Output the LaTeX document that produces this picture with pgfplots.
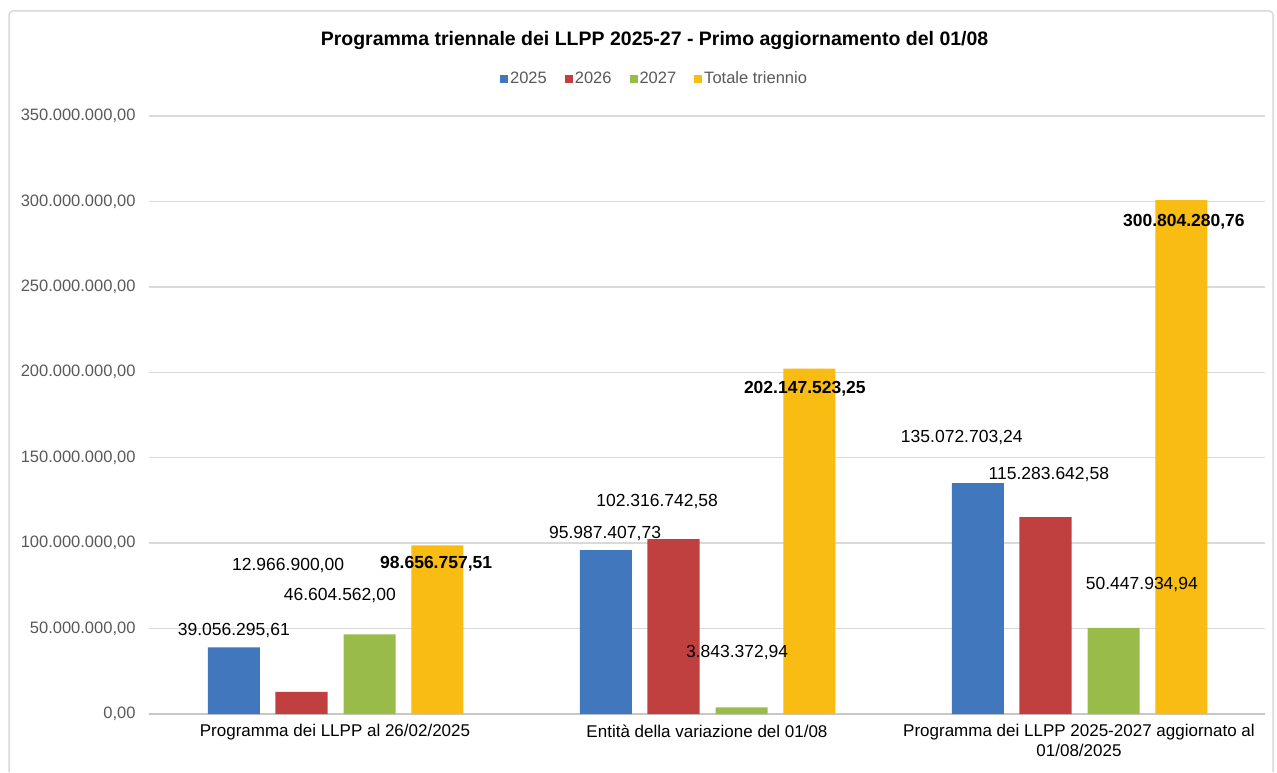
\documentclass[border=0pt]{standalone}
\usepackage{fontspec}
\setmainfont{Liberation Sans}
\usepackage{pgfplots}
\pgfplotsset{compat=1.18}
\definecolor{cblue}{HTML}{4177BD}
\definecolor{cred}{HTML}{C0403F}
\definecolor{cgreen}{HTML}{98BB4A}
\definecolor{cyel}{HTML}{F8BC12}
\definecolor{grid}{HTML}{D9D9D9}
\definecolor{tick}{HTML}{595959}
\newcommand{\lab}{\fontsize{17.5}{21}\selectfont}
\begin{document}
\begin{tikzpicture}
\path[use as bounding box] (0,0) rectangle (1277pt,772pt);
\draw[grid, line width=1.5pt, rounded corners=4pt] (9pt,0pt) -- (9pt,761pt) -- (1273pt,761pt) -- (1273pt,0pt);
\begin{axis}[
  at={(149pt,58pt)}, anchor=south west,
  scale only axis, width=1116pt, height=598pt,
  xmin=-0.5, xmax=2.5, ymin=0, ymax=350000000,
  axis x line*=bottom, axis y line*=left,
  x axis line style={draw=grid!80!gray, line width=1.5pt, -},
  y axis line style={draw=none},
  xmajorgrids=false, ymajorgrids=true,
  y grid style={grid, line width=1.5pt},
  ytick={0,50000000,100000000,150000000,200000000,250000000,300000000,350000000},
  yticklabels={{0,00},{50.000.000,00},{100.000.000,00},{150.000.000,00},{200.000.000,00},{250.000.000,00},{300.000.000,00},{350.000.000,00}},
  scaled y ticks=false,
  /pgf/number format/assume math mode=true,
  yticklabel style={font=\fontsize{16.5}{19}\selectfont, text=tick, anchor=east, xshift=-10pt},
  xtick={0,1,2}, major tick length=0pt, xtick style={draw=none}, ytick style={draw=none},
  xticklabels={{Programma dei LLPP al 26/02/2025},{Entità della variazione del 01/08},{Programma dei LLPP 2025-2027 aggiornato al\\01/08/2025}},
  xticklabel style={font=\fontsize{17}{20}\selectfont, align=center, anchor=north, yshift=-7pt},
  ybar, bar width=0.14,
  legend style={at={(0.453,1.0635)}, anchor=center, draw=none, fill=none, legend columns=4,
    font=\fontsize{16.5}{19}\selectfont, text=tick,
    /tikz/every even column/.append style={column sep=16pt}},
  legend image code/.code={\fill[#1] (0pt,-5pt) rectangle (8pt,3pt);},
  clip=false,
]
\addplot[fill=cblue, draw=none, bar shift=-0.272] coordinates {(0,39056295.61) (1,95987407.73) (2,135072703.24)};
\addplot[fill=cred, draw=none, bar shift=-0.09] coordinates {(0,12966900.00) (1,102316742.58) (2,115283642.58)};
\addplot[fill=cgreen, draw=none, bar shift=0.093] coordinates {(0,46604562.00) (1,3843372.94) (2,50447934.94)};
\addplot[fill=cyel, draw=none, bar shift=0.275] coordinates {(0,98656757.51) (1,202147523.25) (2,300804280.76)};
\legend{2025,2026,2027,Totale triennio}
\node[font=\bfseries\fontsize{19.5}{23}\selectfont] at (rel axis cs:0.453,1.127) {Programma triennale dei LLPP 2025-27 - Primo aggiornamento del 01/08};
\node[font=\lab] at (axis cs:-0.272,48580000) {39.056.295,61};
\node[font=\lab] at (axis cs:-0.126,87200000) {12.966.900,00};
\node[font=\lab] at (axis cs:0.013,69100000) {46.604.562,00};
\node[font=\lab\bfseries] at (axis cs:0.272,87800000) {98.656.757,51};
\node[font=\lab] at (axis cs:0.726,105900000) {95.987.407,73};
\node[font=\lab] at (axis cs:0.866,124100000) {102.316.742,58};
\node[font=\lab] at (axis cs:1.081,35700000) {3.843.372,94};
\node[font=\lab\bfseries] at (axis cs:1.263,190200000) {202.147.523,25};
\node[font=\lab] at (axis cs:1.685,162100000) {135.072.703,24};
\node[font=\lab] at (axis cs:1.919,139900000) {115.283.642,58};
\node[font=\lab] at (axis cs:2.169,75500000) {50.447.934,94};
\node[font=\lab\bfseries] at (axis cs:2.282,288000000) {300.804.280,76};
\end{axis}
\end{tikzpicture}
\end{document}
